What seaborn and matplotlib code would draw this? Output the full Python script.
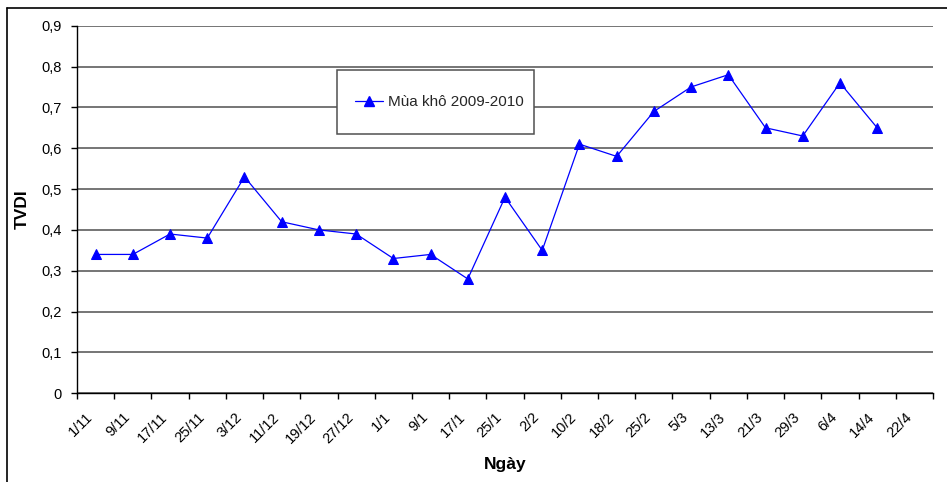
import numpy as np
import pandas as pd
import matplotlib
matplotlib.use("Agg")
import matplotlib.pyplot as plt
from matplotlib.lines import Line2D
from matplotlib.patches import Rectangle
from matplotlib.ticker import FixedLocator, FuncFormatter
import seaborn as sns

# Observation dates (dry season 2009-2010); the last date has no value yet
dates = ["1/11", "9/11", "17/11", "25/11", "3/12", "11/12", "19/12", "27/12",
         "1/1", "9/1", "17/1", "25/1", "2/2", "10/2", "18/2", "25/2",
         "5/3", "13/3", "21/3", "29/3", "6/4", "14/4", "22/4"]
tvdi = [0.34, 0.34, 0.39, 0.38, 0.53, 0.42, 0.40, 0.39,
        0.33, 0.34, 0.28, 0.48, 0.35, 0.61, 0.58, 0.69,
        0.75, 0.78, 0.65, 0.63, 0.76, 0.65]
series_name = "Mùa khô 2009-2010"
y_ticks = [0.0, 0.1, 0.2, 0.3, 0.4, 0.5, 0.6, 0.7, 0.8, 0.9]

sns.set_theme(style="white")
plt.rcParams["font.family"] = ["Liberation Sans", "DejaVu Sans"]

W, H = 947, 482
fig = plt.figure(figsize=(W / 100, H / 100), dpi=100)
fig.patch.set_facecolor("white")

# plot area in pixel coordinates
x0, x1, ytop, ybot = 77, 933, 25.7, 393.3
ax = fig.add_axes([x0 / W, 1 - ybot / H, (x1 - x0) / W, (ybot - ytop) / H])
ax.set_facecolor("white")

df = pd.DataFrame({"pos": np.arange(len(tvdi)), "TVDI": tvdi,
                   "series": series_name})

sns.lineplot(data=df, x="pos", y="TVDI", ax=ax, color="#0000ff",
             linewidth=0.9, marker="^", markersize=7.5,
             markeredgecolor="#0000ff", markerfacecolor="#0000ff",
             label=series_name, legend=False, zorder=3)

# axes ranges and gridlines
ax.set_xlim(-0.5, len(dates) - 0.5)
ax.set_ylim(0, 0.9)
ax.yaxis.set_major_locator(FixedLocator(y_ticks))
ax.yaxis.set_major_formatter(
    FuncFormatter(lambda v, p: "0" if abs(v) < 1e-9 else f"{v:.1f}".replace(".", ",")))
ax.grid(axis="y", color="#505050", linewidth=1.1)
ax.grid(axis="x", visible=False)
ax.set_axisbelow(True)

# category labels centred, tick marks on category boundaries
ax.set_xticks(np.arange(len(dates)))
ax.set_xticklabels(dates, rotation=45, ha="right", fontsize=10.5)
ax.set_xticks(np.arange(len(dates) + 1) - 0.5, minor=True)
ax.tick_params(axis="x", which="major", length=0, pad=12, colors="black")
ax.tick_params(axis="x", which="minor", length=4, width=1, color="black",
               bottom=True)
ax.tick_params(axis="y", length=4, width=1, color="black", pad=7,
               labelsize=10.5, left=True, labelcolor="black")

for side in ("top", "right"):
    ax.spines[side].set_visible(False)
for side in ("left", "bottom"):
    ax.spines[side].set_color("black")
    ax.spines[side].set_linewidth(1.0)

ax.set_ylabel("TVDI", fontsize=12.5, fontweight="bold", color="black")
ax.yaxis.set_label_coords(-0.0549, 0.5)
ax.set_xlabel("Ngày", fontsize=12.5, fontweight="bold", color="black")
ax.xaxis.set_label_coords(0.5, -0.172)

# legend box
lx0, lx1, ly0, ly1 = 337, 534, 70, 134
fig.patches.append(Rectangle((lx0 / W, 1 - ly1 / H), (lx1 - lx0) / W,
                             (ly1 - ly0) / H, transform=fig.transFigure,
                             facecolor="white", edgecolor="#505050",
                             linewidth=1.1, zorder=4))
handle = Line2D([], [], color="#0000ff", linewidth=0.9, marker="^",
                markersize=7.5, markerfacecolor="#0000ff",
                markeredgecolor="#0000ff")
leg = fig.legend([handle], [series_name], loc="center left",
                 bbox_to_anchor=(355 / W, 1 - 102 / H), frameon=False,
                 fontsize=11, handlelength=1.8, handletextpad=0.33,
                 borderpad=0, borderaxespad=0)
leg.set_zorder(5)

# outer chart border (top and left edges)
fig.add_artist(Line2D([7 / W, 1], [1 - 8 / H, 1 - 8 / H],
                      transform=fig.transFigure, color="black", linewidth=1.2))
fig.add_artist(Line2D([7 / W, 7 / W], [0, 1 - 8 / H],
                      transform=fig.transFigure, color="black", linewidth=1.2))

fig.savefig("out.png", dpi=100, facecolor="white")
